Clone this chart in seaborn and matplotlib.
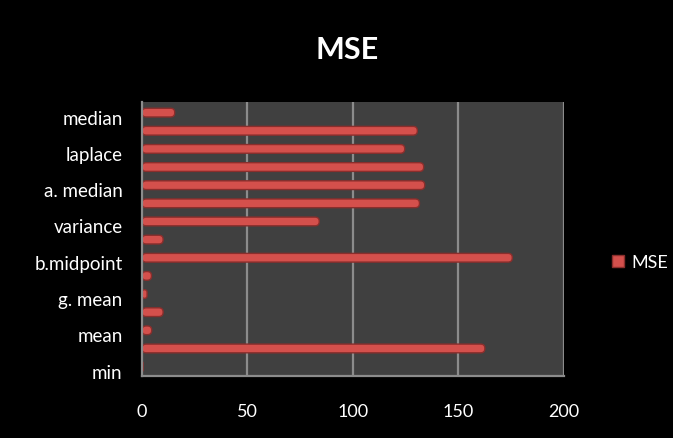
import matplotlib
matplotlib.use("Agg")
import matplotlib.pyplot as plt
import matplotlib.transforms as mtransforms
from matplotlib.lines import Line2D
from matplotlib.patches import FancyBboxPatch
import seaborn as sns
import pandas as pd

# Method order from top to bottom; only every other method carries a visible label
methods = ["median", "m14", "laplace", "m12", "a. median", "m10", "variance", "m8",
           "b.midpoint", "m6", "g. mean", "m4", "mean", "m2", "min"]
shown_labels = ["median", "", "laplace", "", "a. median", "", "variance", "",
                "b.midpoint", "", "g. mean", "", "mean", "", "min"]
mse = [15.5, 130.5, 124.5, 133.5, 134, 131.5, 84, 10, 175.5, 4.5, 2.4, 10, 4.6, 162.5, 0.5]
x_ticks = [0, 50, 100, 150, 200]

df = pd.DataFrame({"method": methods, "MSE": mse})

sns.set_theme(style="dark")
plt.rcParams["font.family"] = ["Lato", "DejaVu Sans"]

fig = plt.figure(figsize=(6.73, 4.39), dpi=100, facecolor="black")
ax = fig.add_axes([0.211, 0.142, 0.627, 0.624])
ax.set_facecolor("#404040")

bar_color = "#d4504c"
bar_edge = "#8a2e2c"
sns.barplot(data=df, x="MSE", y="method", order=methods, orient="h",
            color=bar_color, edgecolor=bar_edge, linewidth=1.0,
            width=0.48, saturation=1, ax=ax)

ax.set_xlim(0, 200)
ax.set_ylim(len(methods) - 0.55, -0.6)

# give the bars rounded, tube-like ends
for p in list(ax.patches):
    x0, y0 = p.get_x(), p.get_y()
    w, h = p.get_width(), p.get_height()
    p.set_visible(False)
    r = min(2.0, w / 2) if w > 0 else 0.1
    fb = FancyBboxPatch((x0, y0), w, h,
                        boxstyle=f"round,pad=0,rounding_size={r}",
                        mutation_aspect=0.11,
                        facecolor=bar_color, edgecolor=bar_edge, linewidth=1.0,
                        zorder=2)
    ax.add_patch(fb)

ax.set_xticks(x_ticks)
ax.set_xticklabels([str(t) for t in x_ticks], color="white", fontsize=13)

# boundary tick marks between categories, labels at category centres
ax.set_yticks([i - 0.5 for i in range(len(methods) + 1)])
ax.set_yticklabels([])
ax.set_yticks(range(len(methods)), minor=True)
ax.set_yticklabels(shown_labels, minor=True, color="white", fontsize=13.5)
ax.tick_params(axis="y", which="major", length=5, color="#8c8c8c", width=1.2, direction="out")
ax.tick_params(axis="y", which="minor", length=0, pad=14)
ax.tick_params(axis="x", length=6, color="#8c8c8c", width=1.2, direction="out", pad=14)

# category labels sit a little below their bars
shift = mtransforms.ScaledTranslation(0, -4 / 100, fig.dpi_scale_trans)
for lbl in ax.get_yticklabels(minor=True):
    lbl.set_transform(lbl.get_transform() + shift)

ax.grid(False)
for x in x_ticks[1:]:
    ax.axvline(x, color="#8c8c8c", lw=1.6, zorder=0.5)

for side in ["top", "right"]:
    ax.spines[side].set_visible(False)
for side in ["left", "bottom"]:
    ax.spines[side].set_color("#8c8c8c")
    ax.spines[side].set_linewidth(1.6)

ax.set_xlabel("")
ax.set_ylabel("")

fig.text(0.516, 0.887, "MSE", color="white", fontsize=22, fontweight="bold",
         ha="center", va="center")

handle = Line2D([], [], marker="s", linestyle="none", markersize=8,
                markerfacecolor=bar_color, markeredgecolor=bar_edge)
fig.legend([handle], ["MSE"], loc="center left", bbox_to_anchor=(0.908, 0.40),
           frameon=False, labelcolor="white", fontsize=13, handlelength=0.8,
           handletextpad=0.3, borderaxespad=0, borderpad=0)

fig.savefig("out.png", dpi=100, facecolor="black")
